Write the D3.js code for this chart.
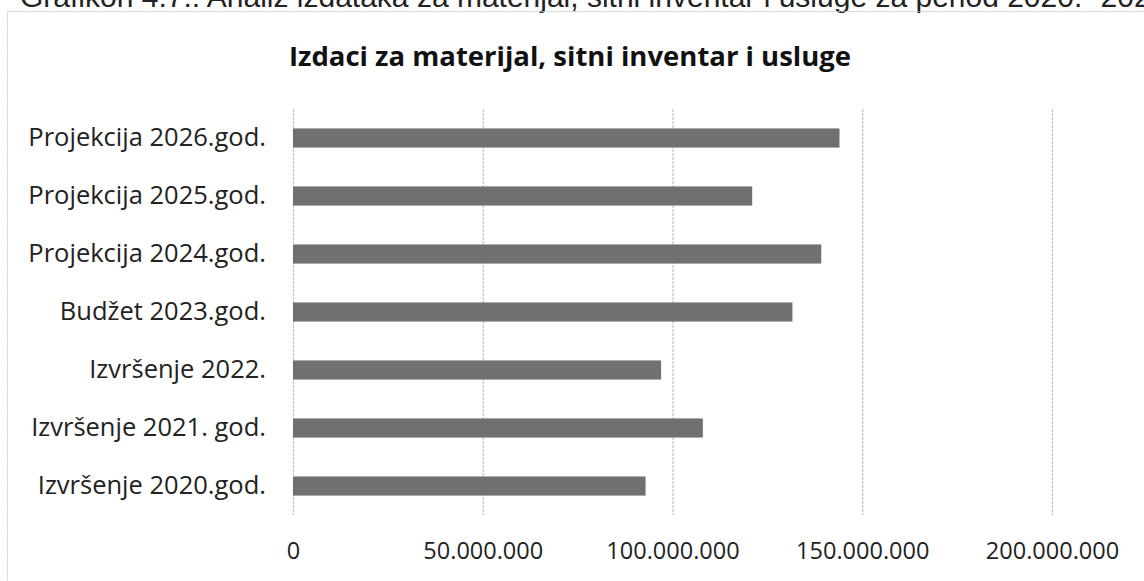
<!DOCTYPE html>
<html>
<head>
<meta charset="utf-8">
<script src="https://cdn.jsdelivr.net/npm/d3@7"></script>
<style>
  body { margin: 0; background: #fff; }
  svg { display: block; }
</style>
</head>
<body>
<script>
// Chart data -----------------------
const categories = [
  'Projekcija 2026.god.',
  'Projekcija 2025.god.',
  'Projekcija 2024.god.',
  'Budžet 2023.god.',
  'Izvršenje 2022.',
  'Izvršenje 2021. god.',
  'Izvršenje 2020.god.'
];
const values = [144000000, 121000000, 139200000, 131600000, 97000000, 108000000, 92900000];
const xTicks = [0, 50000000, 100000000, 150000000, 200000000];
const xTickLabels = ['0', '50.000.000', '100.000.000', '150.000.000', '200.000.000'];

const caption = 'Grafikon 4.7.: Analiz izdataka za materijal, sitni inventar i usluge za period 2020.- 2026.';
const title = 'Izdaci za materijal, sitni inventar i usluge';

const width = 1144, height = 581;
const plot = {left: 293, right: 1052, top: 109, bottom: 515};
const font = 'Open Sans, sans-serif';

const svg = d3.select('body').append('svg')
  .attr('width', width)
  .attr('height', height);

// caption cut off at the top of the scan
svg.append('text')
  .attr('x', 20)
  .attr('y', 7)
  .attr('font-family', 'Liberation Sans, Arial, sans-serif')
  .attr('font-size', 30)
  .attr('fill', '#222')
  .text(caption);

// chart frame
svg.append('rect')
  .attr('x', 7.5).attr('y', 11.5)
  .attr('width', width + 10).attr('height', height + 10)
  .attr('fill', 'none')
  .attr('stroke', '#c8c8c8')
  .attr('stroke-dasharray', '2,1');

svg.append('text')
  .attr('x', 570)
  .attr('y', 66)
  .attr('text-anchor', 'middle')
  .attr('font-family', font)
  .attr('font-weight', 'bold')
  .attr('font-size', 27.5)
  .attr('fill', '#111')
  .text(title);

// Scales -------------------------
const x = d3.scaleLinear()
  .domain([0, 200000000])
  .range([plot.left, plot.right]);

const y = d3.scaleBand()
  .domain(categories)
  .range([plot.top, plot.bottom])
  .paddingInner(0.67)
  .paddingOuter(0.335);

// Gridlines ----------------------
svg.append('g')
  .selectAll('line')
  .data(xTicks)
  .join('line')
  .attr('x1', d => x(d) + 0.5)
  .attr('x2', d => x(d) + 0.5)
  .attr('y1', plot.top)
  .attr('y2', plot.bottom)
  .attr('stroke', '#c4c4c4')
  .attr('stroke-width', 1.2)
  .attr('stroke-dasharray', '3,1');

// Bars ---------------------------
svg.append('g')
  .selectAll('rect')
  .data(values)
  .join('rect')
  .attr('x', x(0))
  .attr('y', (d, i) => y(categories[i]))
  .attr('width', d => x(d) - x(0))
  .attr('height', y.bandwidth())
  .attr('fill', '#707070');

// X-Axis -------------------------
const xAxis = svg.append('g')
  .attr('transform', `translate(0, ${plot.bottom + 24})`)
  .call(d3.axisBottom(x)
    .tickValues(xTicks)
    .tickFormat((d, i) => xTickLabels[i])
    .tickSize(0));
xAxis.select('.domain').remove();
xAxis.selectAll('text')
  .attr('font-family', font)
  .attr('font-size', 23.5)
  .attr('fill', '#222');

// Y-Axis -------------------------
const yAxis = svg.append('g')
  .attr('transform', `translate(${plot.left - 27}, 0)`)
  .call(d3.axisLeft(y).tickSize(0).tickPadding(0));
yAxis.select('.domain').remove();
yAxis.selectAll('text')
  .attr('font-family', font)
  .attr('font-size', 25.5)
  .attr('fill', '#222');
</script>
</body>
</html>
